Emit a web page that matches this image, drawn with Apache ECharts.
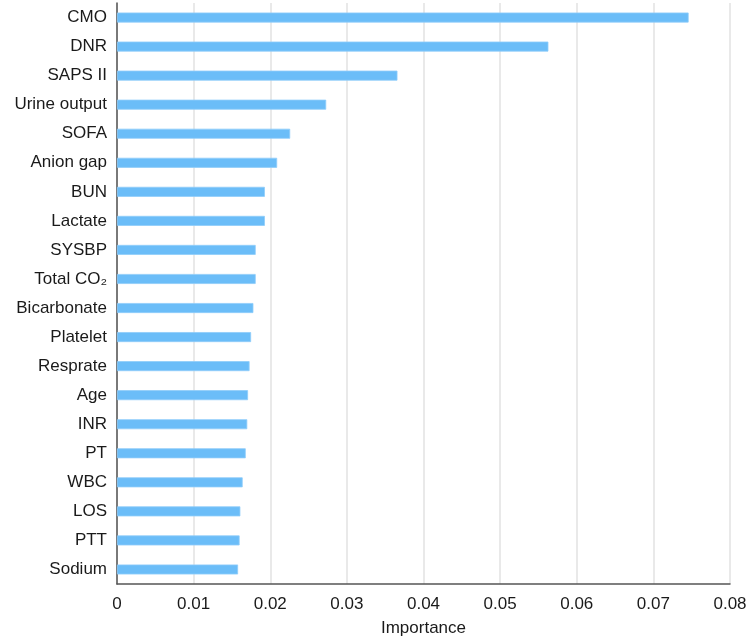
<!DOCTYPE html>
<html>
<head>
<meta charset="utf-8">
<script src="https://cdn.jsdelivr.net/npm/echarts@6/dist/echarts.min.js"></script>
<style>
html,body{margin:0;padding:0;background:#fff;}
#chart{width:750px;height:640px;}
</style>
</head>
<body>
<div id="chart"></div>
<script>
// Categories top to bottom
const categories = ["CMO","DNR","SAPS II","Urine output","SOFA","Anion gap","BUN","Lactate","SYSBP","Total CO₂","Bicarbonate","Platelet","Resprate","Age","INR","PT","WBC","LOS","PTT","Sodium"];
const importance = [0.0746,0.0563,0.0366,0.0273,0.0226,0.0209,0.0193,0.0193,0.0181,0.0181,0.0178,0.0175,0.0173,0.0171,0.0170,0.0168,0.0164,0.0161,0.0160,0.0158];
const xTicks = [0,0.01,0.02,0.03,0.04,0.05,0.06,0.07,0.08];

const chart = echarts.init(document.getElementById('chart'));
const font = '"Liberation Sans", Arial, Helvetica, sans-serif';
chart.setOption({
  animation: false,
  grid: {left: 117, right: 20, top: 3, bottom: 56, containLabel: false, outerBoundsMode: 'none'},
  xAxis: {
    type: 'value',
    min: 0, max: 0.08, interval: 0.01,
    name: 'Importance',
    nameLocation: 'middle',
    nameGap: 36,
    nameTextStyle: {fontFamily: font, fontSize: 17, color: '#1a1a1a'},
    axisLine: {show: true, lineStyle: {color: '#555', width: 1.5}},
    axisTick: {show: false},
    axisLabel: {fontFamily: font, fontSize: 17, color: '#1a1a1a', margin: 12,
      formatter: v => xTicks.includes(Math.round(v*100)/100) ? String(Math.round(v*100)/100) : ''},
    splitLine: {show: true, lineStyle: {color: '#e2e2e2', width: 1.5}}
  },
  yAxis: {
    type: 'category',
    data: categories,
    inverse: true,
    axisLine: {show: true, lineStyle: {color: '#555', width: 1.5}},
    axisTick: {show: false},
    axisLabel: {fontFamily: font, fontSize: 17, color: '#1a1a1a', margin: 10},
    splitLine: {show: false}
  },
  series: [{
    type: 'bar',
    data: importance,
    barWidth: 10,
    itemStyle: {color: '#6bbdf8', borderColor: '#8fcdfa', borderWidth: 0.8}
  }]
});
</script>
</body>
</html>
